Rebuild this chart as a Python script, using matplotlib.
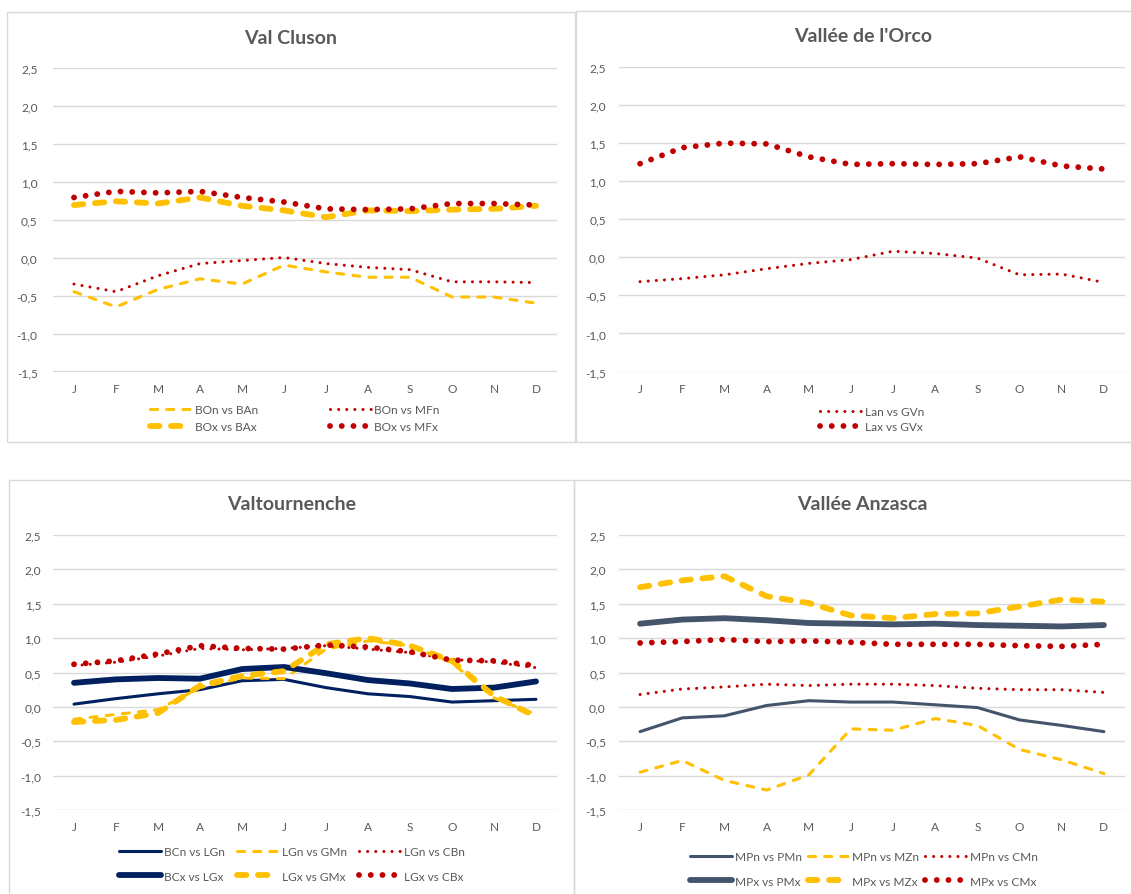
import matplotlib
matplotlib.use("Agg")
import matplotlib.pyplot as plt
from matplotlib.patches import Rectangle

plt.rcParams['font.family'] = ['Lato', 'DejaVu Sans']

# ---------------- data ----------------
MONTHS = ['J', 'F', 'M', 'A', 'M', 'J', 'J', 'A', 'S', 'O', 'N', 'D']
Y_TICKS = [-1.5, -1.0, -0.5, 0.0, 0.5, 1.0, 1.5, 2.0, 2.5]

# Val Cluson
cluson_labels = ['BOn vs BAn', 'BOn vs MFn', 'BOx vs BAx', 'BOx vs MFx']
cluson_bon_ban = [-0.45, -0.65, -0.42, -0.28, -0.35, -0.10, -0.19, -0.26, -0.26, -0.52, -0.52, -0.60]
cluson_bon_mfn = [-0.35, -0.45, -0.24, -0.08, -0.04, 0.00, -0.08, -0.13, -0.16, -0.32, -0.32, -0.33]
cluson_box_bax = [0.69, 0.74, 0.71, 0.79, 0.68, 0.62, 0.53, 0.62, 0.61, 0.63, 0.64, 0.68]
cluson_box_mfx = [0.79, 0.87, 0.85, 0.87, 0.79, 0.73, 0.64, 0.63, 0.64, 0.71, 0.71, 0.69]

# Vallée de l'Orco
orco_labels = ['Lan vs GVn', 'Lax vs GVx']
orco_lan_gvn = [-0.32, -0.28, -0.23, -0.15, -0.08, -0.03, 0.08, 0.05, -0.01, -0.23, -0.22, -0.33]
orco_lax_gvx = [1.23, 1.44, 1.50, 1.49, 1.32, 1.22, 1.23, 1.22, 1.23, 1.32, 1.20, 1.16]

# Valtournenche
valt_labels = ['BCn vs LGn', 'LGn vs GMn', 'LGn vs CBn', 'BCx vs LGx', 'LGx vs GMx', 'LGx vs CBx']
valt_bcn_lgn = [0.04, 0.12, 0.19, 0.25, 0.38, 0.40, 0.28, 0.19, 0.15, 0.07, 0.09, 0.11]
valt_lgn_gmn = [-0.18, -0.11, -0.04, 0.28, 0.42, 0.41, 0.84, 0.96, 0.89, 0.64, 0.13, -0.11]
valt_lgn_cbn = [0.60, 0.65, 0.74, 0.85, 0.83, 0.85, 0.89, 0.84, 0.79, 0.69, 0.65, 0.57]
valt_bcx_lgx = [0.35, 0.40, 0.42, 0.41, 0.55, 0.58, 0.49, 0.39, 0.34, 0.26, 0.28, 0.37]
valt_lgx_gmx = [-0.22, -0.19, -0.09, 0.31, 0.45, 0.52, 0.91, 1.00, 0.89, 0.67, 0.16, -0.14]
valt_lgx_cbx = [0.62, 0.67, 0.77, 0.89, 0.85, 0.84, 0.90, 0.87, 0.80, 0.68, 0.67, 0.60]

# Vallée Anzasca
anz_labels = ['MPn vs PMn', 'MPn vs MZn', 'MPn vs CMn', 'MPx vs PMx', 'MPx vs MZx', 'MPx vs CMx']
anz_mpn_pmn = [-0.36, -0.16, -0.13, 0.02, 0.09, 0.07, 0.07, 0.03, -0.01, -0.19, -0.27, -0.36]
anz_mpn_mzn = [-0.95, -0.78, -1.07, -1.21, -0.99, -0.32, -0.34, -0.17, -0.27, -0.62, -0.77, -0.97]
anz_mpn_cmn = [0.18, 0.26, 0.29, 0.33, 0.31, 0.33, 0.33, 0.31, 0.27, 0.25, 0.25, 0.21]
anz_mpx_pmx = [1.21, 1.27, 1.29, 1.26, 1.22, 1.21, 1.20, 1.21, 1.19, 1.18, 1.17, 1.19]
anz_mpx_mzx = [1.74, 1.84, 1.90, 1.61, 1.51, 1.33, 1.29, 1.35, 1.36, 1.46, 1.56, 1.53]
anz_mpx_cmx = [0.93, 0.95, 0.98, 0.95, 0.96, 0.94, 0.91, 0.91, 0.91, 0.89, 0.88, 0.91]

# ---------------- styles ----------------
YELLOW = '#FFC000'
RED = '#C00000'
NAVY = '#002060'
SLATE = '#44546A'
GRID = '#D9D9D9'
TEXT = '#595959'
THIN = 2.2
THICK = 4.2

def style(kind, color):
    if kind == 'thin_solid':
        return dict(color=color, lw=THIN, solid_capstyle='round', solid_joinstyle='round')
    if kind == 'thick_solid':
        return dict(color=color, lw=THICK, solid_capstyle='round', solid_joinstyle='round')
    if kind == 'thin_dash':
        return dict(color=color, lw=THIN, dashes=(2.3, 3.0), dash_capstyle='round', dash_joinstyle='round')
    if kind == 'thick_dash':
        return dict(color=color, lw=THICK, dashes=(1.6, 2.0), dash_capstyle='round', dash_joinstyle='round')
    if kind == 'thin_dot':
        return dict(color=color, lw=THIN, dashes=(0.01, 2.65), dash_capstyle='round')
    if kind == 'thick_dot':
        return dict(color=color, lw=THICK, dashes=(0.01, 2.0), dash_capstyle='round')

W, H = 1131, 895
fig = plt.figure(figsize=(W / 100, H / 100), dpi=100)
fig.patch.set_facecolor('white')

def fx(px):
    return px / W

def fy(py):
    return 1 - py / H

def make_axes(left, right, top, bottom, ypad):
    ax = fig.add_axes([fx(left), fy(bottom), fx(right - left), (bottom - top) / H])
    ax.set_xlim(-0.5, 11.5)
    ax.set_ylim(-1.5, 2.5)
    ax.set_yticks(Y_TICKS)
    ax.set_yticklabels([f"{v:.1f}".replace('.', ',') for v in Y_TICKS])
    ax.set_xticks(range(len(MONTHS)))
    ax.set_xticklabels(MONTHS)
    for s in ax.spines.values():
        s.set_visible(False)
    ax.tick_params(axis='both', length=0, labelsize=8.6, labelcolor=TEXT)
    ax.tick_params(axis='x', pad=8)
    ax.tick_params(axis='y', pad=ypad)
    ax.grid(axis='y', color=GRID, lw=1.0)
    ax.set_axisbelow(True)
    return ax

def border(x0, y0, x1, y1):
    fig.patches.append(Rectangle((fx(x0), fy(y1)), fx(x1 - x0), (y1 - y0) / H,
                                 transform=fig.transFigure, fill=False,
                                 edgecolor=GRID, lw=1.0))

def title(x, y, txt):
    fig.text(fx(x), fy(y), txt, ha='center', va='center', fontsize=14,
             fontweight='bold', color=TEXT)

def legend(handles, labels, cx, cy, ncol, colspace, labelspace):
    fig.legend(handles, labels, loc='center', bbox_to_anchor=(fx(cx), fy(cy)),
               ncol=ncol, frameon=False, fontsize=8.6, labelcolor=TEXT,
               handlelength=3.5, handletextpad=0.25, columnspacing=colspace,
               labelspacing=labelspace, borderpad=0, borderaxespad=0)

x = range(len(MONTHS))

# panel borders
border(7, 12.7, 574.5, 442.7)
border(575.5, 11.7, 1160, 442.7)
border(9.3, 481, 574, 905)
border(574, 480.5, 1160, 905)

# ---- Val Cluson ----
ax1 = make_axes(53, 557, 68.5, 372.5, 11)
h = []
h += ax1.plot(x, cluson_bon_ban, **style('thin_dash', YELLOW))
h += ax1.plot(x, cluson_bon_mfn, **style('thin_dot', RED))
h += ax1.plot(x, cluson_box_bax, **style('thick_dash', YELLOW))
h += ax1.plot(x, cluson_box_mfx, **style('thick_dot', RED))
title(291, 38, 'Val Cluson')
order = [0, 2, 1, 3]
legend([h[i] for i in order], [cluson_labels[i] for i in order], 295, 419, 2, 6.0, 0.45)

# ---- Vallée de l'Orco ----
ax2 = make_axes(619, 1125, 68, 372.5, 9.5)
h = []
h += ax2.plot(x, orco_lan_gvn, **style('thin_dot', RED))
h += ax2.plot(x, orco_lax_gvx, **style('thick_dot', RED))
title(863, 37, "Vallée de l'Orco")
legend(h, orco_labels, 872, 420, 1, 1.0, 0.3)

# ---- Valtournenche ----
ax3 = make_axes(53, 557, 536, 811, 8.5)
h = []
h += ax3.plot(x, valt_bcn_lgn, **style('thin_solid', NAVY))
h += ax3.plot(x, valt_lgn_gmn, **style('thin_dash', YELLOW))
h += ax3.plot(x, valt_lgn_cbn, **style('thin_dot', RED))
h += ax3.plot(x, valt_bcx_lgx, **style('thick_solid', NAVY))
h += ax3.plot(x, valt_lgx_gmx, **style('thick_dash', YELLOW))
h += ax3.plot(x, valt_lgx_cbx, **style('thick_dot', RED))
title(292, 505, 'Valtournenche')
order = [0, 3, 1, 4, 2, 5]
legend([h[i] for i in order], [valt_labels[i] for i in order], 292, 865, 3, 1.0, 1.1)

# ---- Vallée Anzasca ----
ax4 = make_axes(619, 1125, 536, 811, 9.5)
h = []
h += ax4.plot(x, anz_mpn_pmn, **style('thin_solid', SLATE))
h += ax4.plot(x, anz_mpn_mzn, **style('thin_dash', YELLOW))
h += ax4.plot(x, anz_mpn_cmn, **style('thin_dot', RED))
h += ax4.plot(x, anz_mpx_pmx, **style('thick_solid', SLATE))
h += ax4.plot(x, anz_mpx_mzx, **style('thick_dash', YELLOW))
h += ax4.plot(x, anz_mpx_cmx, **style('thick_dot', RED))
title(862, 505, 'Vallée Anzasca')
legend([h[i] for i in order], [anz_labels[i] for i in order], 864, 870, 3, 0.5, 1.1)

fig.savefig('out.png', dpi=100, facecolor='white')
